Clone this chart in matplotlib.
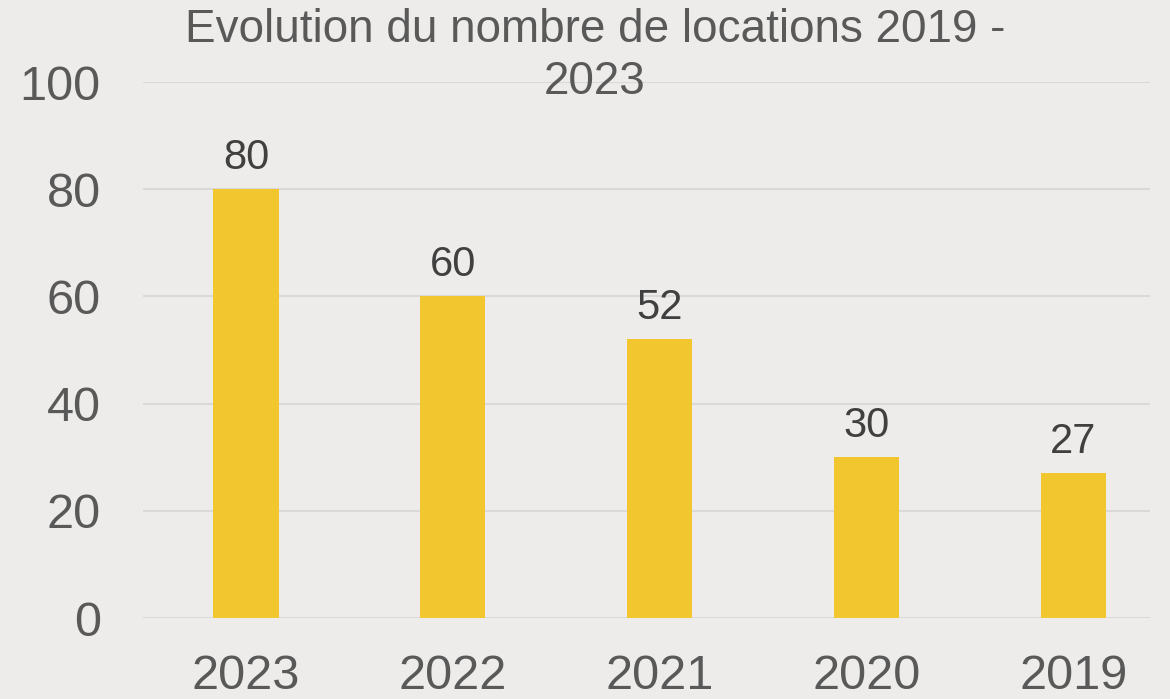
import matplotlib.pyplot as plt

annees = ['2023', '2022', '2021', '2020', '2019']
locations = [80, 60, 52, 30, 27]
yticks = [0, 20, 40, 60, 80, 100]

fond = '#EDECEA'
jaune = '#F2C62F'

plt.rcParams['font.family'] = ['Liberation Sans', 'DejaVu Sans']

fig = plt.figure(figsize=(11.7, 6.99), dpi=100, facecolor=fond)
ax = fig.add_axes([142.5 / 1170, 81 / 699, (1150 - 142.5) / 1170, (618 - 82) / 699])
ax.set_facecolor(fond)

x = range(len(annees))
barres = ax.bar(x, locations, width=0.315, color=jaune, zorder=3)
ax.bar_label(barres, padding=8, fontsize=30, color='#404040')

ax.set_xlim(-0.5, 4.37)
ax.set_ylim(0, 100)
ax.set_yticks(yticks)
ax.set_xticks(list(x))
ax.set_xticklabels(annees)
ax.tick_params(axis='both', length=0, labelsize=35, labelcolor='#595959')
ax.tick_params(axis='x', pad=26)
ax.tick_params(axis='y', pad=30)
ax.grid(axis='y', color='#D9D9D9', linewidth=1.5, zorder=0)
for s in ax.spines.values():
    s.set_visible(False)

fig.text(595 / 1170, 1 - 8 / 699, 'Evolution du nombre de locations 2019 -\n2023',
         ha='center', va='top', fontsize=33, color='#595959', linespacing=1.25)

fig.savefig('out.png', dpi=100, facecolor=fond)
